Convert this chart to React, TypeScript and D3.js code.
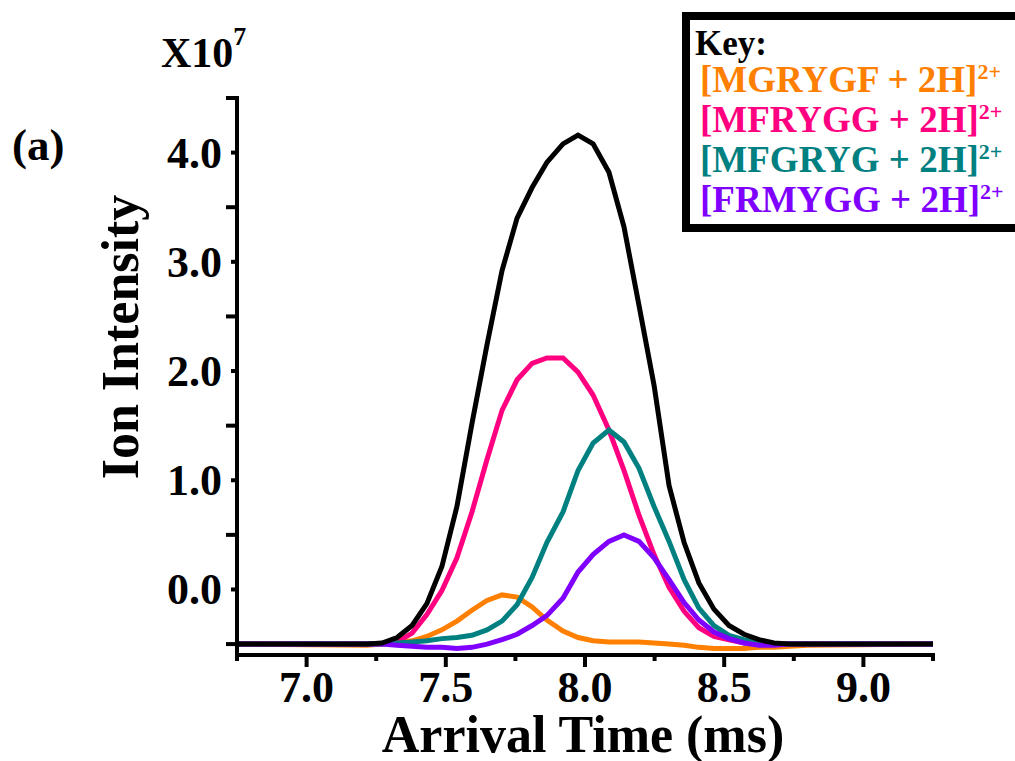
import React from 'react';
import * as d3 from 'd3';

// arrival time (ms) of each sampled drift bin
const arrivalTimes = [
  6.75, 7.217, 7.271, 7.325, 7.379, 7.432, 7.486, 7.54, 7.594, 7.648, 7.702, 7.756,
  7.81, 7.863, 7.921, 7.975, 8.029, 8.086, 8.14, 8.194, 8.248, 8.302, 8.356, 8.409,
  8.463, 8.517, 8.571, 8.625, 8.679, 8.733, 8.8, 9.25,
];

// intensities read against the printed axis (x10^7)
const totalIntensity = [
  -0.5, -0.5, -0.49, -0.44, -0.33, -0.13, 0.21, 0.76, 1.52, 2.24, 2.92, 3.4,
  3.68, 3.91, 4.08, 4.16, 4.08, 3.82, 3.32, 2.6, 1.87, 0.95, 0.43, 0.06,
  -0.18, -0.33, -0.41, -0.46, -0.49, -0.5, -0.5, -0.5,
];
const mgrygf = [
  -0.5, -0.51, -0.5, -0.49, -0.47, -0.43, -0.37, -0.29, -0.19, -0.1, -0.05, -0.07,
  -0.16, -0.28, -0.38, -0.44, -0.47, -0.48, -0.48, -0.48, -0.49, -0.5, -0.51, -0.53,
  -0.54, -0.54, -0.54, -0.53, -0.53, -0.52, -0.51, -0.5,
];
const mfrygg = [
  -0.5, -0.5, -0.5, -0.48, -0.4, -0.23, -0.01, 0.29, 0.71, 1.19, 1.64, 1.92,
  2.07, 2.12, 2.12, 1.99, 1.78, 1.46, 1.09, 0.68, 0.32, 0.02, -0.2, -0.35,
  -0.43, -0.46, -0.49, -0.5, -0.5, -0.5, -0.5, -0.5,
];
const mfgryg = [
  -0.5, -0.5, -0.5, -0.49, -0.48, -0.47, -0.45, -0.44, -0.42, -0.37, -0.29, -0.14,
  0.11, 0.43, 0.71, 1.09, 1.34, 1.46, 1.35, 1.11, 0.76, 0.44, 0.09, -0.17,
  -0.33, -0.42, -0.46, -0.49, -0.5, -0.5, -0.5, -0.5,
];
const frmygg = [
  -0.5, -0.5, -0.5, -0.51, -0.52, -0.53, -0.53, -0.54, -0.53, -0.5, -0.46, -0.41,
  -0.33, -0.24, -0.08, 0.16, 0.32, 0.44, 0.5, 0.44, 0.29, 0.09, -0.12, -0.28,
  -0.39, -0.45, -0.49, -0.51, -0.51, -0.5, -0.5, -0.5,
];

// drawn bottom to top
const series = [
  { name: 'MGRYGF', values: mgrygf, color: '#FF8000' },
  { name: 'MFRYGG', values: mfrygg, color: '#FF0080' },
  { name: 'MFGRYG', values: mfgryg, color: '#008080' },
  { name: 'FRMYGG', values: frmygg, color: '#8000FF' },
  { name: 'total', values: totalIntensity, color: '#000000' },
];
const legendNames = ['MGRYGF', 'MFRYGG', 'MFGRYG', 'FRMYGG'];

const xMajor = [7.0, 7.5, 8.0, 8.5, 9.0];
const xMinor = [6.75, 7.25, 7.75, 8.25, 8.75, 9.25];
const yMajor = [0, 1, 2, 3, 4];
const yMinor = [-0.5, 0.5, 1.5, 2.5, 3.5, 4.5];

const W = 1015;
const H = 761;
const font = "'Liberation Serif', 'Times New Roman', serif";

export default function App() {
  const x = d3.scaleLinear().domain([6.75, 9.25]).range([237, 933]);
  const y = d3.scaleLinear().domain([-0.6, 4.5]).range([655, 98]);
  const fmt = d3.format('.1f');

  const line = d3
    .line<number>()
    .x((_, i) => x(arrivalTimes[i]))
    .y((v) => y(v));

  return (
    <div style={{ position: 'absolute', left: 0, top: 0 }}>
      <svg width={W} height={H} style={{ display: 'block' }} fontFamily={font} fontWeight="bold">
        <rect width={W} height={H} fill="#fff" />

        {/* curves */}
        {series.map((s) => (
          <path key={s.name} d={line(s.values) || ''} fill="none" stroke={s.color} strokeWidth={5} />
        ))}

        {/* axes */}
        <line x1={x(6.75)} x2={x(9.25) + 2} y1={y(-0.6)} y2={y(-0.6)} stroke="#000" strokeWidth={4} />
        <line x1={x(6.75)} x2={x(6.75)} y1={y(4.5) - 2} y2={y(-0.6) + 2} stroke="#000" strokeWidth={4} />

        {xMajor.map((t) => (
          <g key={'xM' + t}>
            <line x1={x(t)} x2={x(t)} y1={y(-0.6)} y2={y(-0.6) + 12} stroke="#000" strokeWidth={4} />
            <text x={x(t)} y={702} textAnchor="middle" fontSize={44}>{fmt(t)}</text>
          </g>
        ))}
        {xMinor.map((t) => (
          <line key={'xm' + t} x1={x(t)} x2={x(t)} y1={y(-0.6)} y2={y(-0.6) + 6} stroke="#000" strokeWidth={4} />
        ))}

        {yMajor.map((v) => (
          <g key={'yM' + v}>
            <line x1={x(6.75) - 6} x2={x(6.75)} y1={y(v)} y2={y(v)} stroke="#000" strokeWidth={4} />
            <text x={222} y={y(v) + 15} textAnchor="end" fontSize={44}>{fmt(v)}</text>
          </g>
        ))}
        {yMinor.map((v) => (
          <line key={'ym' + v} x1={x(6.75) - 11} x2={x(6.75)} y1={y(v)} y2={y(v)} stroke="#000" strokeWidth={4} />
        ))}

        {/* titles */}
        <text x={583} y={752} textAnchor="middle" fontSize={52}>Arrival Time (ms)</text>
        <text transform="translate(138,337) rotate(-90)" textAnchor="middle" fontSize={52}>Ion Intensity</text>
        <text x={161} y={67} fontSize={42}>
          X10<tspan fontSize={26} dy={-22}>7</tspan>
        </text>
        <text x={12} y={160} fontSize={45}>(a)</text>

        {/* key */}
        <rect x={686} y={16} width={400} height={212} fill="#fff" stroke="#000" strokeWidth={8} />
        <text x={695} y={55} fontSize={35} fill="#000">Key:</text>
        {legendNames.map((n, i) => {
          const s = series.find((d) => d.name === n)!;
          return (
            <text key={n} x={700} y={92 + i * 40} fontSize={37} fill={s.color}>
              [{n} + 2H]<tspan fontSize={22} dy={-13}>2+</tspan>
            </text>
          );
        })}
      </svg>
    </div>
  );
}
